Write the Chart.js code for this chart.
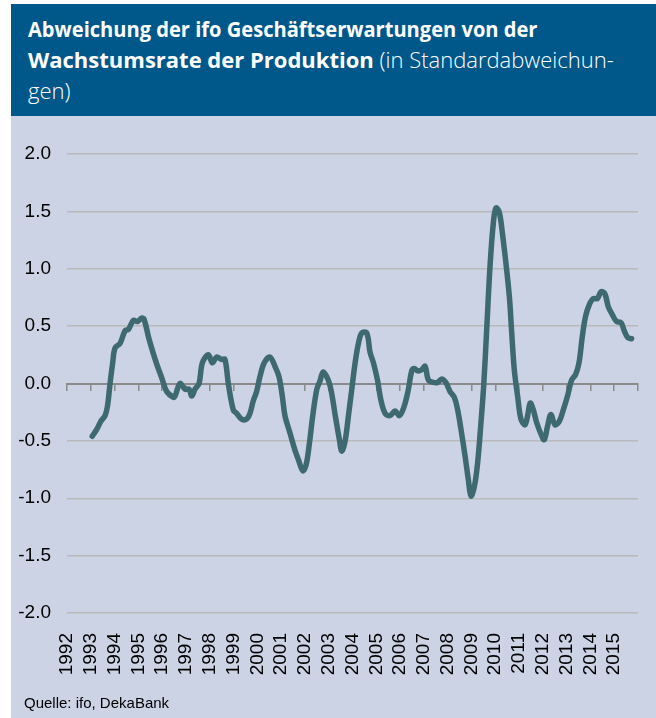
<!DOCTYPE html>
<html>
<head>
<meta charset="utf-8">
<script src="https://cdn.jsdelivr.net/npm/chart.js@4"></script>
<style>
  html, body { margin: 0; padding: 0; background: #ffffff; }
  body { width: 656px; height: 718px; position: relative; overflow: hidden; }
  #header { position: absolute; left: 11px; top: 4px; width: 645px; height: 112px; background: #00578a; }
  #title { position: absolute; left: 17px; top: 9px; color: #ffffff; font-family: "Open Sans", sans-serif;
           font-size: 22px; line-height: 31px; white-space: nowrap; }
  #title div { transform-origin: left top; }
  #title .l1 { transform: scaleX(0.913); }
  #title b { font-weight: 700; }
  #title span { font-weight: 300; }
  #plot { position: absolute; left: 11px; top: 116px; width: 645px; height: 602px; background: #cbd3e4; }
  #chart { position: absolute; left: 0; top: 0; }
  #source { position: absolute; left: 13px; top: 578px; font-family: "Liberation Sans", Arial, sans-serif; font-size: 15px; color: #000; }
</style>
</head>
<body>
<div id="header"><div id="title">
  <div class="l1"><b>Abweichung der ifo Geschäftserwartungen von der</b></div>
  <div class="l2"><b>Wachstumsrate der Produktion</b><span> (in Standardabweichun-</span></div>
  <div class="l3"><span>gen)</span></div>
</div></div>
<div id="plot">
  <canvas id="chart" width="645" height="602"></canvas>
  <div id="source">Quelle: ifo, DekaBank</div>
</div>
<script>
// time (decimal years) of each reading
const dates = [
  1993.06, 1993.25, 1993.42, 1993.6, 1993.7, 1993.81, 1993.92, 1994.02, 1994.23, 1994.44,
  1994.58, 1994.79, 1994.96, 1995.14, 1995.24, 1995.42, 1995.6, 1995.77, 1995.98, 1996.19,
  1996.47, 1996.54, 1996.75, 1996.96, 1997.13, 1997.24, 1997.38, 1997.55, 1997.69, 1997.94,
  1998.11, 1998.29, 1998.5, 1998.64, 1998.78, 1998.99, 1999.13, 1999.34, 1999.55, 1999.69,
  1999.83, 1999.97, 2000.11, 2000.29, 2000.53, 2000.74, 2000.91, 2001.05, 2001.16, 2001.37,
  2001.58, 2001.72, 2001.91, 2002.05, 2002.19, 2002.33, 2002.5, 2002.63, 2002.77, 2002.98,
  2003.12, 2003.26, 2003.45, 2003.55, 2003.69, 2003.83, 2003.97, 2004.11, 2004.25, 2004.39,
  2004.6, 2004.74, 2004.88, 2005.05, 2005.19, 2005.37, 2005.58, 2005.79, 2005.97, 2006.17,
  2006.35, 2006.49, 2006.6, 2006.74, 2006.91, 2007.05, 2007.19, 2007.4, 2007.58, 2007.75,
  2007.92, 2008.1, 2008.28, 2008.42, 2008.56, 2008.73, 2008.87, 2008.98, 2009.12, 2009.26,
  2009.4, 2009.52, 2009.64, 2009.78, 2009.92, 2010.03, 2010.17, 2010.3, 2010.48, 2010.6,
  2010.69, 2010.8, 2010.94, 2011.08, 2011.25, 2011.36, 2011.47, 2011.6, 2011.74, 2011.92,
  2012.06, 2012.2, 2012.34, 2012.51, 2012.69, 2012.86, 2013.05, 2013.21, 2013.38, 2013.52,
  2013.66, 2013.8, 2013.98, 2014.12, 2014.29, 2014.45, 2014.61, 2014.75, 2014.92, 2015.1,
  2015.29, 2015.42, 2015.57, 2015.73
];
// deviation in standard deviations
const deviation = [
  -0.46, -0.40, -0.33, -0.28, -0.20, 0.00, 0.18, 0.31, 0.35, 0.46,
  0.47, 0.55, 0.54, 0.57, 0.56, 0.41, 0.28, 0.17, 0.05, -0.07,
  -0.12, -0.11, 0.00, -0.05, -0.05, -0.11, -0.05, 0.00, 0.18, 0.25,
  0.18, 0.23, 0.21, 0.21, 0.00, -0.23, -0.26, -0.31, -0.31, -0.26,
  -0.15, -0.07, 0.06, 0.18, 0.23, 0.15, 0.06, -0.11, -0.28, -0.43,
  -0.58, -0.66, -0.76, -0.71, -0.52, -0.28, -0.05, 0.02, 0.10, 0.03,
  -0.08, -0.26, -0.49, -0.59, -0.50, -0.28, -0.05, 0.18, 0.35, 0.44,
  0.44, 0.27, 0.18, 0.03, -0.14, -0.26, -0.28, -0.24, -0.28, -0.20,
  -0.05, 0.11, 0.13, 0.11, 0.12, 0.15, 0.03, 0.01, 0.01, 0.04,
  0.01, -0.07, -0.12, -0.23, -0.40, -0.63, -0.84, -0.98, -0.90, -0.69,
  -0.34, 0.00, 0.47, 1.02, 1.40, 1.53, 1.49, 1.31, 0.99, 0.74,
  0.45, 0.12, -0.11, -0.31, -0.36, -0.28, -0.17, -0.23, -0.34, -0.44,
  -0.49, -0.37, -0.27, -0.36, -0.33, -0.23, -0.10, 0.03, 0.08, 0.18,
  0.41, 0.59, 0.70, 0.74, 0.74, 0.80, 0.78, 0.67, 0.60, 0.54,
  0.53, 0.46, 0.40, 0.39
];
const yearLabels = ['1992','1993','1994','1995','1996','1997','1998','1999','2000','2001','2002','2003',
  '2004','2005','2006','2007','2008','2009','2010','2011','2012','2013','2014','2015'];
const yTicks = ['-2.0','-1.5','-1.0','-0.5','0.0','0.5','1.0','1.5','2.0'];

const points = dates.map((d, i) => ({ x: d, y: deviation[i] }));
const xMin = Number(yearLabels[0]);
const xMax = Number(yearLabels[yearLabels.length - 1]) + 1;

new Chart(document.getElementById('chart'), {
  type: 'line',
  data: {
    datasets: [{
      data: points,
      borderColor: '#3e6970',
      borderWidth: 5.5,
      pointRadius: 0,
      tension: 0.35,
      borderCapStyle: 'round',
      borderJoinStyle: 'round',
      fill: false
    }]
  },
  options: {
    responsive: false,
    animation: false,
    layout: { padding: { left: 0, right: 18, top: 38, bottom: 0 } },
    plugins: { legend: { display: false }, tooltip: { enabled: false } },
    scales: {
      x: {
        type: 'linear', position: 'bottom', min: xMin, max: xMax,
        afterBuildTicks: (s) => { s.ticks = yearLabels.map(v => ({ value: Number(v) })); },
        afterFit: (s) => { s.height = 105; },
        grid: { display: false }, border: { display: false },
        ticks: {
          autoSkip: false, maxRotation: 90, minRotation: 90, padding: 12,
          color: '#000000', font: { family: '"Liberation Sans", Arial, sans-serif', size: 19 },
          callback: (v) => { const i = yearLabels.indexOf(String(v)); return i >= 0 ? yearLabels[i] : ''; }
        }
      },
      xz: {
        type: 'linear', position: { y: 0 }, axis: 'x', min: xMin, max: xMax,
        afterBuildTicks: (s) => { const t = []; for (let v = xMin; v <= xMax; v++) t.push({ value: v }); s.ticks = t; },
        grid: { drawOnChartArea: false, drawTicks: true, tickLength: 6, color: '#8a8a8a', lineWidth: 1.5 },
        border: { display: true, color: '#8a8a8a', width: 2 },
        ticks: { display: false }
      },
      y: {
        type: 'linear', min: -2, max: 2,
        afterBuildTicks: (s) => { s.ticks = yTicks.map(v => ({ value: Number(v) })); },
        afterFit: (s) => { s.width = 56; },
        grid: { color: (c) => c.tick && c.tick.value === 0 ? 'rgba(0,0,0,0)' : '#b9b9b9', lineWidth: 1.5, drawTicks: false },
        border: { display: false },
        ticks: {
          padding: 16, color: '#000000', font: { family: '"Liberation Sans", Arial, sans-serif', size: 19 },
          callback: (v) => { const i = yTicks.map(Number).indexOf(v); return i >= 0 ? yTicks[i] : ''; }
        }
      }
    }
  }
});
</script>
</body>
</html>
